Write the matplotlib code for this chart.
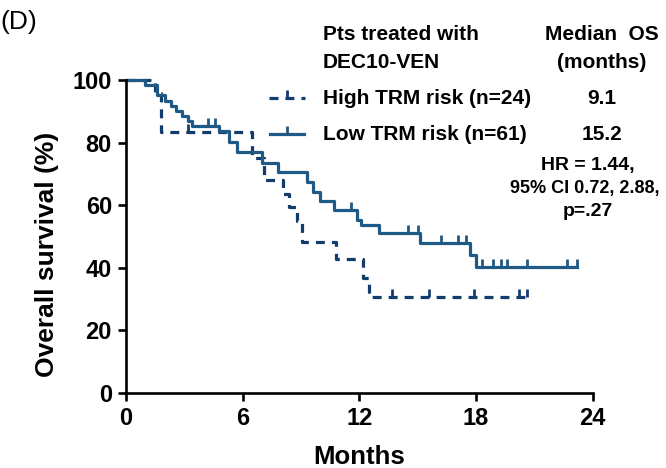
import matplotlib
matplotlib.use("Agg")
import matplotlib.pyplot as plt
import numpy as np

plt.rcParams['font.family'] = ['Liberation Sans', 'DejaVu Sans']

# Kaplan-Meier steps: event times (months) and survival (%) after each step
low_t = [0, 1.0, 1.6, 2.0, 2.3, 2.6, 2.9, 3.2, 3.4, 4.8, 5.3, 5.7, 7.0, 7.8,
         9.3, 9.6, 10.0, 10.7, 11.9, 12.1, 13.0, 15.1, 17.7, 18.0]
low_s = [100, 98.4, 95.1, 93.4, 91.8, 90.2, 88.5, 86.9, 85.2, 83.6, 80.3, 77.0, 73.6, 70.6,
         67.3, 64.2, 61.3, 58.5, 55.3, 53.6, 51.0, 47.9, 44.0, 40.4]
low_end = 23.2
low_cens = [4.2, 4.6, 11.6, 14.5, 15.0, 16.2, 17.1, 17.5, 18.3, 18.9, 19.3, 19.6, 20.6, 22.7, 23.2]

high_t = [0, 1.5, 1.8, 6.5, 7.1, 8.1, 8.4, 8.8, 9.05, 10.8, 12.2, 12.5]
high_s = [100, 95.8, 83.3, 75.0, 67.9, 63.5, 59.3, 55.0, 48.1, 42.8, 36.7, 30.6]
high_end = 20.6
high_cens = [3.2, 13.7, 15.6, 17.9, 20.2, 20.6]

low_col = '#1f5a86'
high_col = '#123c6c'

W, H = 666, 468
fig = plt.figure(figsize=(W / 100, H / 100), dpi=100)
ax = fig.add_axes([125.8 / W, 1 - 393 / H, (592.7 - 125.8) / W, (393 - 80) / H])


def km(ax, t, s, end, cens, **kw):
    tt = list(t) + [end]
    ss = list(s) + [s[-1]]
    ax.step(tt, ss, where='post', clip_on=False, **kw)
    idx = np.searchsorted(t, cens, side='right') - 1
    cy = np.array(s)[idx]
    ax.plot(cens, cy, linestyle='none', marker=2, markersize=6, mew=2,
            color=kw['color'], clip_on=False)


km(ax, high_t, high_s, high_end, high_cens, color=high_col, lw=2.3,
   linestyle=(0, (2.8, 2.2)))
km(ax, low_t, low_s, low_end, low_cens, color=low_col, lw=2.3)

ax.set_xlim(0, 24)
ax.set_ylim(0, 100)
ax.set_xticks([0, 6, 12, 18, 24])
ax.set_yticks([0, 20, 40, 60, 80, 100])
for side in ['top', 'right']:
    ax.spines[side].set_visible(False)
for side in ['left', 'bottom']:
    ax.spines[side].set_linewidth(1.9)
ax.tick_params(direction='out', length=6, width=1.9, labelsize=17, pad=4)
for lab in ax.get_xticklabels() + ax.get_yticklabels():
    lab.set_fontweight('bold')

# labels and legend block, placed in figure pixels
def ftext(x, y, s, **kw):
    fig.text(x / W, 1 - y / H, s, va='center', **kw)

ftext(47, 254, 'Overall survival (%)', rotation=90, ha='center', fontsize=19, fontweight='bold')
ftext(359, 457, 'Months', ha='center', fontsize=18.5, fontweight='bold')
ftext(0, 22, '(D)', ha='left', fontsize=19)

ftext(323, 35, 'Pts treated with', ha='left', fontsize=15, fontweight='bold')
ftext(323, 62, 'DEC10-VEN', ha='left', fontsize=15, fontweight='bold')
ftext(602, 35, 'Median  OS', ha='center', fontsize=15, fontweight='bold')
ftext(602, 62, '(months)', ha='center', fontsize=15, fontweight='bold')
ftext(323, 98, 'High TRM risk (n=24)', ha='left', fontsize=15, fontweight='bold')
ftext(602, 98, '9.1', ha='center', fontsize=15, fontweight='bold')
ftext(323, 134, 'Low TRM risk (n=61)', ha='left', fontsize=15, fontweight='bold')
ftext(602, 134, '15.2', ha='center', fontsize=15, fontweight='bold')
ftext(588, 165, 'HR = 1.44,', ha='center', fontsize=14, fontweight='bold')
ftext(585, 188, '95% CI 0.72, 2.88,', ha='center', fontsize=13, fontweight='bold')
ftext(588, 211, 'p=.27', ha='center', fontsize=14, fontweight='bold')

# legend line samples
fig.add_artist(plt.Line2D([269 / W, 305 / W], [1 - 98 / H, 1 - 98 / H], color=high_col,
                          lw=2.3, linestyle=(0, (2.8, 2.2))))
fig.add_artist(plt.Line2D([287 / W], [1 - 98 / H], color=high_col, marker=2,
                          markersize=6, mew=2, linestyle='none'))
fig.add_artist(plt.Line2D([270 / W, 304 / W], [1 - 134 / H, 1 - 134 / H], color=low_col, lw=2.3))
fig.add_artist(plt.Line2D([287 / W], [1 - 134 / H], color=low_col, marker=2,
                          markersize=6, mew=2, linestyle='none'))

fig.savefig('out.png', dpi=100)
